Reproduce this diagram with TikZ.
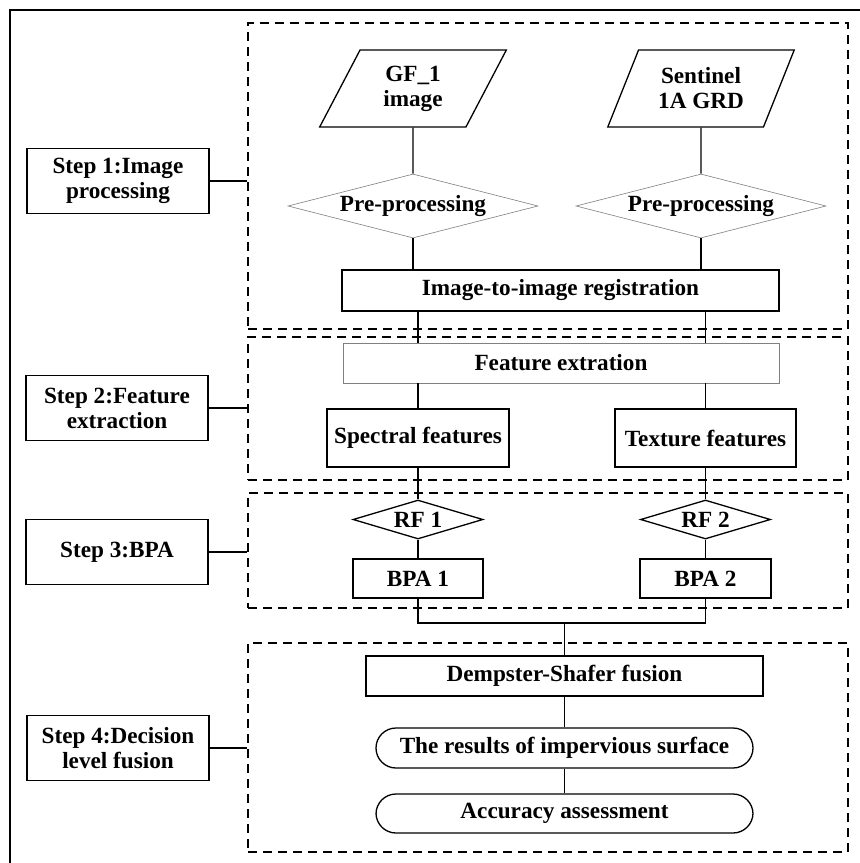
\documentclass[tikz,border=0pt]{standalone}
\usepackage{fontspec}
\setmainfont{Liberation Serif}
\usetikzlibrary{shapes.geometric}

\tikzset{
  txt/.style = {font=\fontsize{11.6}{12.5}\selectfont\bfseries, align=center},
  box/.style = {draw, line width=0.65pt, txt, inner sep=1pt},
  stepbox/.style = {box, minimum width=91pt, minimum height=32.5pt},
  stage/.style = {draw, line width=0.7pt, dash pattern=on 4.5pt off 3pt, minimum width=300pt},
  dataio/.style = {box, trapezium, trapezium left angle=64, trapezium right angle=116,
    trapezium stretches=true, minimum width=93.5pt, minimum height=38.5pt},
  prep/.style = {diamond, draw=gray, line width=0.3pt, txt, inner sep=0pt, aspect=3.9,
    minimum width=125pt, minimum height=32pt},
  rfnode/.style = {box, diamond, inner sep=0pt, aspect=3.3, minimum width=65pt, minimum height=19.5pt},
  result/.style = {box, rounded corners=10pt, minimum width=188.5pt, minimum height=20pt},
  link/.style = {line width=0.65pt}
}

\begin{document}
\begin{tikzpicture}[x=0.5pt, y=-0.5pt]
  \clip (0,0) rectangle (860,863);
  \fill[white] (0,0) rectangle (860,863);
  % outer frame
  \draw[line width=0.65pt] (10,10) rectangle (900,900);

  % stages
  \node[stage, minimum height=153pt] (stage1) at (548,176) {};
  \node[stage, minimum height=71.5pt] (stage2) at (548,408.5) {};
  \node[stage, minimum height=57.5pt] (stage3) at (548,550.5) {};
  \node[stage, minimum height=104.5pt] (stage4) at (548,747.5) {};

  % steps
  \node[stepbox] (step1) at (118,181) {Step 1:Image\\processing};
  \node[stepbox] (step2) at (117,408) {Step 2:Feature\\extraction};
  \node[stepbox] (step3) at (117,552) {Step 3:BPA};
  \node[stepbox] (step4) at (118,748) {Step 4:Decision\\level fusion};

  \draw[link] (step1.east) -- (step1.east -| stage1.west);
  \draw[link] (step2.east) -- (step2.east -| stage2.west);
  \draw[link] (step3.east) -- (step3.east -| stage3.west);
  \draw[link] (step4.east) -- (step4.east -| stage4.west);

  % step 1
  \node[dataio] (gf) at (413,88.5) {GF\_1\\image};
  \node[dataio] (sent) at (701,88.5) {Sentinel\\1A GRD};
  \node[prep] (pre1) at (413,206) {Pre-processing};
  \node[prep] (pre2) at (701,206) {Pre-processing};
  \node[box, minimum width=218.5pt, minimum height=20.5pt] (reg) at (560.5,290.5) {Image-to-image registration};

  % step 2
  \node[box, draw=gray, line width=0.3pt, minimum width=218pt, minimum height=20pt] (fe) at (561,363) {Feature extration};
  \node[box, minimum width=91pt, minimum height=29pt] (spec) at (418,438) {Spectral features};
  \node[box, minimum width=90.5pt, minimum height=29pt] (tex) at (705.5,438) {Texture features};

  % step 3
  \node[rfnode] (rf1) at (418,519.5) {RF 1};
  \node[rfnode] (rf2) at (705.5,519.5) {RF 2};
  \node[box, minimum width=65pt, minimum height=19.5pt] (bpa1) at (418,578.5) {BPA 1};
  \node[box, minimum width=65.5pt, minimum height=19.5pt] (bpa2) at (705.5,578.5) {BPA 2};

  % step 4
  \node[box, minimum width=198.5pt, minimum height=20pt] (ds) at (564.5,676) {Dempster-Shafer fusion};
  \node[result] (res) at (564.5,748) {The results of impervious surface};
  \node[result, minimum height=19.5pt] (acc) at (564.5,813.5) {Accuracy assessment};

  % connectors
  \draw[link] (gf.south) -- (pre1.north);
  \draw[link] (sent.south) -- (pre2.north);
  \draw[link] (pre1.south) -- (pre1.south |- reg.north);
  \draw[link] (pre2.south) -- (pre2.south |- reg.north);
  \draw[link] (spec |- reg.south) -- (spec |- fe.north);
  \draw[link] (tex |- reg.south) -- (tex |- fe.north);
  \draw[link] (spec |- fe.south) -- (spec.north);
  \draw[link] (tex |- fe.south) -- (tex.north);
  \draw[link] (spec.south) -- (rf1.north);
  \draw[link] (tex.south) -- (rf2.north);
  \draw[link] (rf1.south) -- (bpa1.north);
  \draw[link] (rf2.south) -- (bpa2.north);
  \coordinate (join) at (564.5,623);
  \draw[link] (bpa1.south) |- (join) -| (bpa2.south);
  \draw[link] (join) -- (ds.north);
  \draw[link] (ds.south) -- (res.north);
  \draw[link] (res.south) -- (acc.north);
\end{tikzpicture}
\end{document}
